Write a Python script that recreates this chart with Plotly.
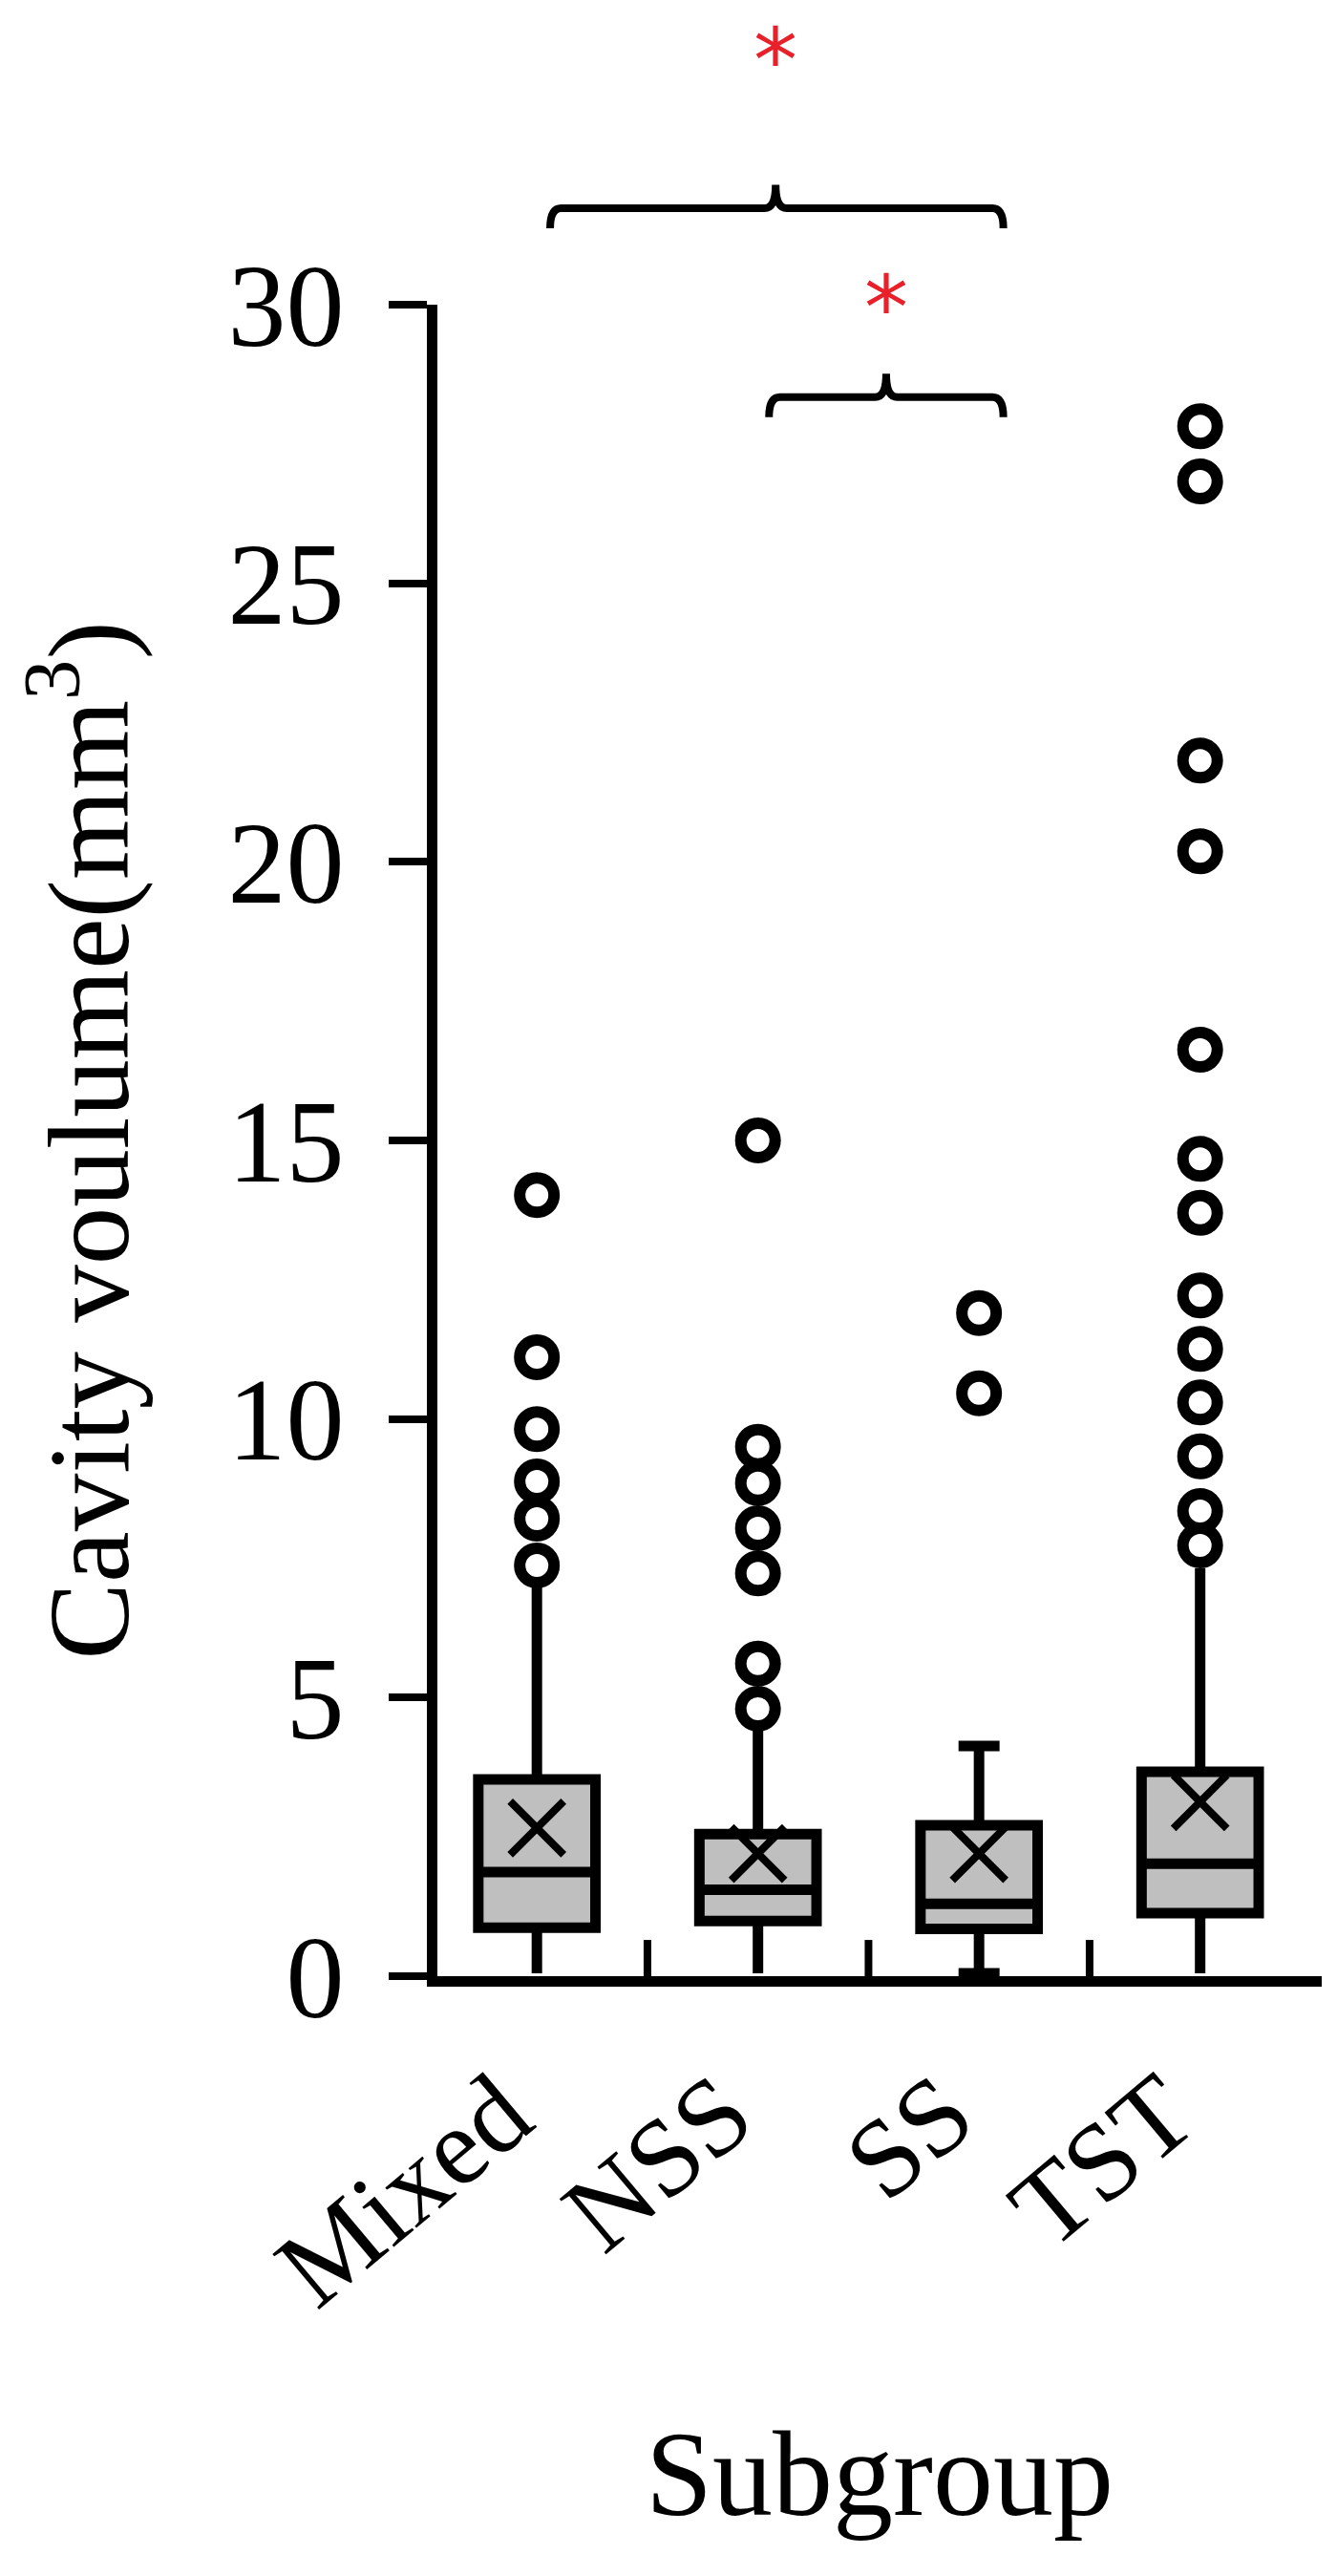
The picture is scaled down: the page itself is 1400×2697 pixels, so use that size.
import plotly.graph_objects as go

# ---- data ----
categories = ["Mixed", "NSS", "SS", "TST"]
q1 = [0.87, 0.99, 0.85, 1.13]
median = [1.87, 1.55, 1.30, 2.02]
q3 = [3.53, 2.55, 2.71, 3.67]
lower_fence = [0.05, 0.05, 0.05, 0.05]
upper_fence = [7.05, 4.41, 4.13, 7.32]
means = [2.66, 2.20, 2.20, 3.13]
outliers = [
    [14.02, 11.11, 9.82, 8.88, 8.21, 7.37],
    [15.0, 9.50, 8.85, 8.04, 7.23, 5.61, 4.80],
    [11.9, 10.46],
    [27.82, 26.83, 21.82, 20.19, 16.63, 14.67, 13.70, 12.22, 11.26, 10.30, 9.33, 8.35, 7.73],
]
whisker_caps = [0.0, 0.0, 0.35, 0.0]
y_ticks = [0, 5, 10, 15, 20, 25, 30]
Y_MAX = 30
# significance brackets: (left x, right x, middle x, level, star level)
brackets = [(0.06, 2.11, 1.08, 31.73, 34.6), (1.05, 2.11, 1.58, 28.34, 30.02)]
star_shift = [-14, -6]
sig_label = "*"

FONT = "Liberation Serif"
LW = 11

fig = go.Figure()
xs = list(range(len(categories)))

for i in xs:
    fig.add_trace(go.Box(
        x=[i], q1=[q1[i]], median=[median[i]], q3=[q3[i]],
        lowerfence=[lower_fence[i]], upperfence=[upper_fence[i]],
        width=0.53, whiskerwidth=whisker_caps[i],
        fillcolor="#bfbfbf", line=dict(color="black", width=LW),
        boxpoints=False, showlegend=False, hoverinfo="skip",
    ))

# mean markers (X)
fig.add_trace(go.Scatter(
    x=xs, y=means, mode="markers", showlegend=False, hoverinfo="skip",
    marker=dict(symbol="x-thin-open", size=56, color="black",
                line=dict(color="black", width=8)),
))

# outliers
for i in xs:
    fig.add_trace(go.Scatter(
        x=[i] * len(outliers[i]), y=outliers[i], mode="markers",
        showlegend=False, hoverinfo="skip", cliponaxis=False,
        marker=dict(symbol="circle", size=36, color="white",
                    line=dict(color="black", width=12)),
    ))


def p(v):
    return v / Y_MAX  # value -> paper fraction of the plot area


# brackets (curly-ended) and significance stars
for k, (xl, xr, xm, lvl, star) in enumerate(brackets):
    yd, yl, yt = p(lvl - 0.36), p(lvl), p(lvl + 0.42)
    dx, dm = 0.05, 0.05
    path = (f"M {xl},{yd} Q {xl},{yl} {xl + dx},{yl} "
            f"L {xm - dm},{yl} Q {xm},{yl} {xm},{yt} "
            f"Q {xm},{yl} {xm + dm},{yl} "
            f"L {xr - dx},{yl} Q {xr},{yl} {xr},{yd}")
    fig.add_shape(type="path", path=path, xref="x", yref="paper",
                  line=dict(color="black", width=8))
    fig.add_annotation(x=xm, y=p(star), xref="x", yref="paper", text=sig_label,
                       showarrow=False, yanchor="middle", yshift=star_shift[k],
                       font=dict(family="DejaVu Sans", size=92, color="#e8202a"))

# boundary tick marks on x axis (inside)
for b in [0.5, 1.5, 2.5]:
    fig.add_shape(type="line", x0=b, x1=b, y0=0, y1=0.65, xref="x", yref="y",
                  line=dict(color="black", width=8))

fig.update_layout(
    width=1400, height=2697,
    margin=dict(l=450, r=24, t=311, b=636),
    paper_bgcolor="white", plot_bgcolor="white",
    font=dict(family=FONT, color="black"),
    showlegend=False,
)
fig.update_xaxes(
    range=[-0.45, 3.55], tickvals=xs, ticktext=categories, tickangle=-40,
    ticks="", showline=True, linewidth=LW, linecolor="black",
    showgrid=False, zeroline=False,
    tickfont=dict(family=FONT, size=116, color="black"),
    ticklabelstandoff=20, ticklabelshift=-36,
    title=dict(text="Subgroup", font=dict(family=FONT, size=126, color="black"), standoff=111),
)
fig.update_yaxes(
    range=[0, Y_MAX], tickvals=y_ticks, ticks="outside", ticklen=40, tickwidth=8,
    tickcolor="black", showline=True, linewidth=LW, linecolor="black",
    showgrid=False, zeroline=False,
    tickfont=dict(family=FONT, size=122, color="black"),
    ticklabelstandoff=22,
    title=dict(text="Cavity voulume(mm<sup>3</sup>)", font=dict(family=FONT, size=121, color="black"), standoff=75),
)

fig.write_html("out.html")
